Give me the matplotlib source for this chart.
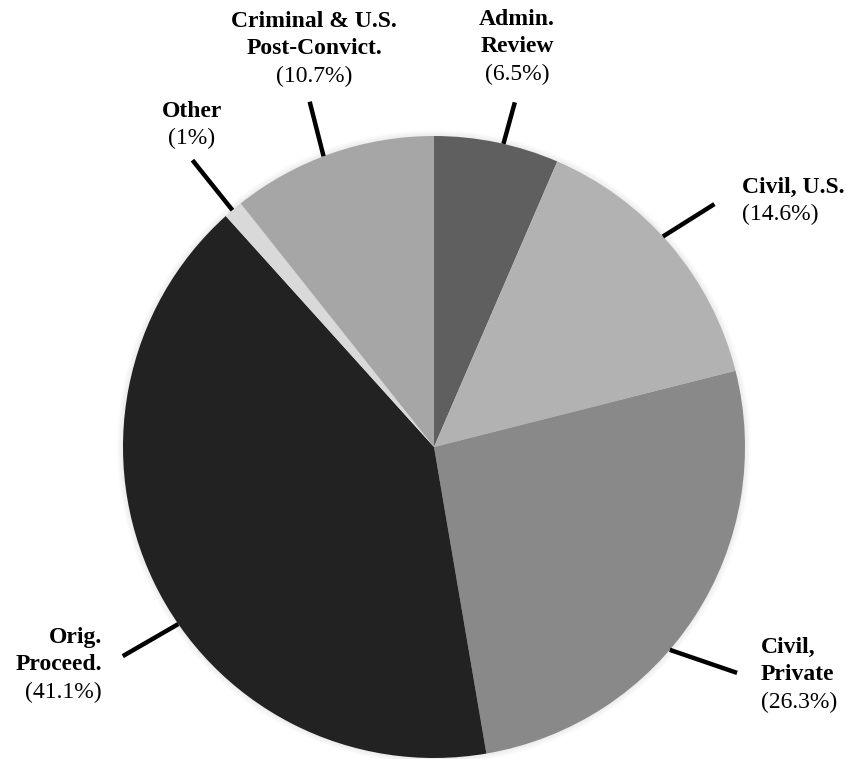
import matplotlib
matplotlib.use("Agg")
import matplotlib.pyplot as plt
import numpy as np
from matplotlib.patches import Circle

# ---- data ----
categories = ["Admin.\nReview", "Civil, U.S.", "Civil,\nPrivate", "Orig.\nProceed.", "Other",
              "Criminal & U.S.\nPost-Convict."]
values = [6.5, 14.6, 26.3, 41.1, 1.0, 10.7]
pct_labels = ["(6.5%)", "(14.6%)", "(26.3%)", "(41.1%)", "(1%)", "(10.7%)"]
colors = ["#5f5f5f", "#b2b2b2", "#898989", "#222222", "#d9d9d9", "#a6a6a6"]

# ---- layout (pixel coords, image y from top) ----
W, H = 847, 759
CX, CY, R = 434, 447, 311
# leader lines: inner angle, outer angle (deg clockwise from top), outer radius (px)
leaders = [(12.9, 13.2, 354), (47.4, 49.1, 371), (130.7, 126.7, 378),
           (235.3, 236.1, 375), (319.6, 319.9, 375), (339.2, 340.2, 367)]
# label anchor: x, first baseline y, alignment
label_pos = [(517, 25, "center"), (742, 193, "left"), (761, 653, "left"),
             (102, 643, "right"), (192, 117, "center"), (314, 27, "center")]
LINE_H = 27.5
FS = 17
FONT = "Liberation Serif"

fig = plt.figure(figsize=(W / 100, H / 100), dpi=100)
ax = fig.add_axes([0, 0, 1, 1])

def Y(y):
    return H - y

# soft shadow
for k in range(6, 0, -1):
    ax.add_patch(Circle((CX, Y(CY)), R + k, color="black", alpha=0.013, lw=0, zorder=0))

ax.pie(values, colors=colors, startangle=90, counterclock=False,
       radius=R, center=(CX, Y(CY)), wedgeprops=dict(linewidth=0),
       normalize=True)

for (a_in, a_out, r_out) in leaders:
    t1, t2 = np.radians(a_in), np.radians(a_out)
    x1, y1 = CX + R * np.sin(t1), Y(CY) + R * np.cos(t1)
    x2, y2 = CX + r_out * np.sin(t2), Y(CY) + r_out * np.cos(t2)
    ax.plot([x1, x2], [y1, y2], color="black", lw=3.2, solid_capstyle="butt", zorder=5)

for cat, pct, (lx, ly, ha) in zip(categories, pct_labels, label_pos):
    lines = cat.split("\n")
    for i, ln in enumerate(lines):
        ax.text(lx, Y(ly + i * LINE_H), ln, ha=ha, va="baseline", fontsize=FS,
                fontweight="bold", family=FONT, color="black")
    ax.text(lx, Y(ly + len(lines) * LINE_H), pct, ha=ha, va="baseline", fontsize=FS,
            family=FONT, color="black")

ax.set_xlim(0, W)
ax.set_ylim(0, H)
ax.set_aspect("equal")
ax.axis("off")
fig.savefig("out.png", dpi=100, facecolor="white")
